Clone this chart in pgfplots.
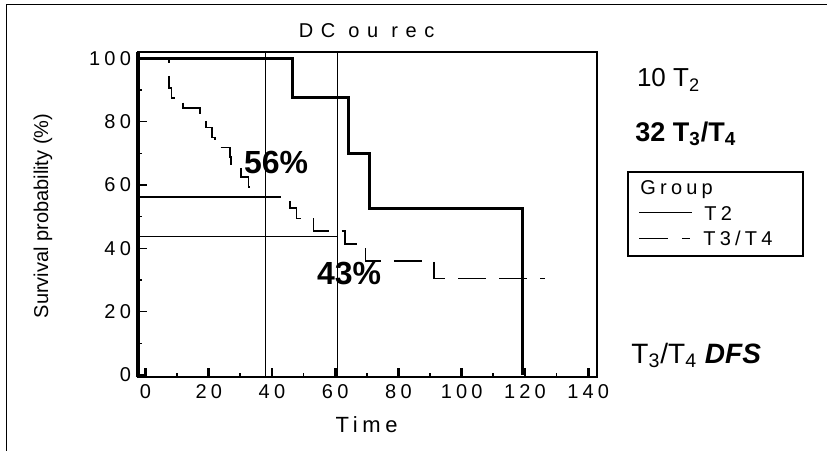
\documentclass[border=0pt]{standalone}
\usepackage{fontspec}
\setmainfont{Liberation Sans}
\newfontfamily\spfont[LetterSpace=21]{Liberation Sans}
\newfontfamily\titlefont[LetterSpace=38]{Liberation Sans}
\usepackage{pgfplots}
\pgfplotsset{compat=1.18}
\begin{document}
\begin{tikzpicture}
\useasboundingbox (0,0) rectangle (413.5pt,-225.5pt);
\fill[white] (0,0) rectangle (413.5pt,-225.5pt);
\draw[line width=0.6pt] (3.3pt,-225.5pt) -- (3.3pt,-2.15pt) -- (413.5pt,-2.15pt);
\begin{axis}[
  at={(69pt,-188.65pt)}, anchor=south west,
  scale only axis, width=229.5pt, height=162.8pt,
  xmin=-2.37, xmax=142.8, ymin=-0.73, ymax=102.1,
  xtick={0,20,...,140}, ytick={0,20,...,100},
  minor x tick num=1, minor y tick num=1,
  tick pos=left, tick align=inside,
  major tick length=4.5pt, minor tick length=2.2pt,
  axis line style={line width=1.1pt},
  major x tick style={line width=1.4pt, black},
  minor x tick style={line width=0.9pt, black},
  major y tick style={line width=0.8pt, black},
  minor y tick style={line width=0.8pt, black},
  ticklabel style={font=\fontsize{10}{12}\selectfont\spfont},
  /pgf/number format/assume math mode=true,
  clip=false,
]
% reference lines
\addplot[black, line width=0.7pt] coordinates {(37.9,-0.73) (37.9,102.1)};
\addplot[black, line width=0.7pt] coordinates {(60.7,-0.73) (60.7,102.1)};
\addplot[black, line width=0.7pt] coordinates {(-2.37,56.25) (37.9,56.25)};
\addplot[black, line width=0.7pt] coordinates {(-2.37,43.75) (60.7,43.75)};
% T3/T4
\addplot[black, line width=0.75pt, dash pattern=on 14pt off 6.5pt] coordinates {
(0,100) (7.4,100) (7.4,90.6) (8.3,90.6) (8.3,87.5) (11.9,87.5) (11.9,84.4)
(17.2,84.4) (17.2,81.3) (19.1,81.3) (19.1,78.1) (21,78.1) (21,75) (22,75)
(22,71.9) (26.7,71.9) (26.7,68.8) (27,68.8) (27,65.6) (30.2,65.6) (30.2,62.5)
(32.5,62.5) (32.5,59.4) (34.3,59.4) (34.3,56.25) (45.7,56.25) (45.7,52.8)
(47.8,52.8) (47.8,49.5) (53.1,49.5) (53.1,45.4) (63.1,45.4) (63.1,41.4)
(69.6,41.4) (69.6,36) (91.2,36) (91.2,30.4) (126.4,30.4)};
% T2
\addplot[black, line width=1.5pt] coordinates {
(-2.37,100) (46.6,100) (46.6,87.5) (64.2,87.5) (64.2,70) (71.0,70) (71.0,52.6)
(119.2,52.6) (119.2,0)};
\draw[line width=1.7pt] (rel axis cs:0,0) -- (rel axis cs:0,1);
\node[font=\fontsize{16}{19}\selectfont\bfseries] at (axis cs:41.3,67.1) {56\%};
\node[font=\fontsize{16}{19}\selectfont\bfseries] at (axis cs:64.4,31.9) {43\%};
\end{axis}
\node[font=\fontsize{10}{12}\selectfont\titlefont] at (183.3pt,-15.5pt) {DC ou rec};
\node[font=\fontsize{11}{13}\selectfont\spfont] at (183.3pt,-212.5pt) {Time};
\node[rotate=90, font=\fontsize{10}{12}\selectfont] at (21.5pt,-108pt) {Survival probability (\%)};
\node[anchor=base west, inner sep=0, font=\fontsize{13}{15}\selectfont] at (318.3pt,-43.3pt) {10 T\textsubscript{2}};
\node[anchor=base west, inner sep=0, font=\fontsize{13.5}{16}\selectfont\bfseries] at (317.5pt,-70.5pt) {32 T\textsubscript{3}/T\textsubscript{4}};
\node[anchor=base west, inner sep=0, font=\fontsize{14}{17}\selectfont] at (315.5pt,-181.7pt) {T\textsubscript{3}/T\textsubscript{4} \textbf{\textit{DFS}}};
\draw[line width=0.7pt] (314pt,-86pt) rectangle (401.5pt,-128pt);
\node[anchor=base west, inner sep=0, font=\fontsize{10}{12}\selectfont\spfont] at (320pt,-97pt) {Group};
\node[anchor=base west, inner sep=0, font=\fontsize{10}{12}\selectfont\spfont] at (319.5pt,-110pt) {\rule[3.3pt]{26.5pt}{0.6pt}\hspace{6pt}T2};
\node[anchor=base west, inner sep=0, font=\fontsize{10}{12}\selectfont\spfont] at (319.5pt,-122.5pt) {\rule[3pt]{14.5pt}{0.6pt}\hspace{6.7pt}\rule[3pt]{4.2pt}{0.6pt}\hspace{6.6pt}T3/T4};
\end{tikzpicture}
\end{document}
